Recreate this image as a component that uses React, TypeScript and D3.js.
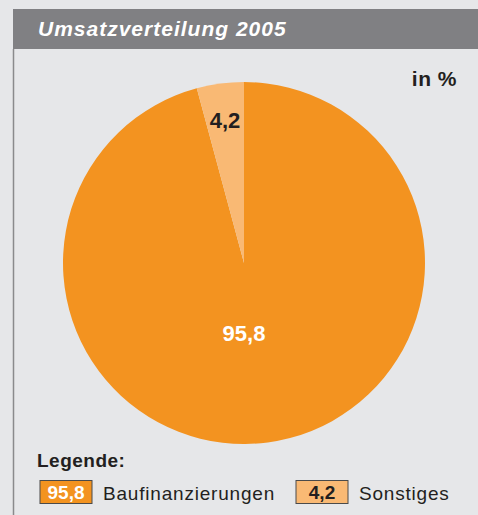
import React from 'react';
import * as d3 from 'd3';

const categories = ['Baufinanzierungen', 'Sonstiges'];
const values = [95.8, 4.2];
const labels = ['95,8', '4,2'];
const colors = ['#f39320', '#f9b974'];
const labelColors = ['#ffffff', '#231f20'];

const W = 478;
const H = 515;
const cx = 244;
const cy = 263;
const R = 181;
const font = '"Liberation Sans Narrow", "Liberation Sans", Arial, sans-serif';

const App = () => {
  // big slice runs clockwise from 12 o'clock, the small one closes back at the top
  const pie = d3.pie<number>().sort(null).value(d => d);
  const arcs = pie(values);
  const arc = d3.arc<d3.PieArcDatum<number>>().innerRadius(0).outerRadius(R);

  const labelPos = (i: number) => {
    if (i === 0) return [cx, cy + 78];
    const a = arcs[i];
    const mid = (a.startAngle + a.endAngle) / 2;
    const r = R * 0.8;
    return [cx + Math.sin(mid) * r, cy - Math.cos(mid) * r + 9];
  };

  return (
    <svg width={W} height={H} style={{ position: 'absolute', left: 0, top: 0 }}>
      <rect x={0} y={0} width={W} height={H} fill="#e6e7e9" />
      <rect x={13} y={9} width={W - 13} height={40} fill="#808083" />
      <line x1={13.5} y1={49} x2={13.5} y2={H} stroke="#8a8a8c" strokeWidth={1.5} />
      <text x={38} y={36} fill="#ffffff" fontFamily={font} fontWeight="bold" fontStyle="italic"
        fontSize={21} letterSpacing={1}>Umsatzverteilung 2005</text>
      <text x={457} y={86} textAnchor="end" fill="#231f20" fontFamily={font} fontWeight="bold"
        fontSize={21} letterSpacing={0.5}>in %</text>

      <g transform={`translate(${cx},${cy})`}>
        {arcs.map((a, i) => (
          <path key={categories[i]} d={arc(a) || ''} fill={colors[i]} />
        ))}
      </g>
      {arcs.map((a, i) => {
        const [x, y] = labelPos(i);
        return (
          <text key={'l' + i} x={x} y={y} textAnchor="middle" fill={labelColors[i]}
            fontFamily={font} fontWeight="bold" fontSize={22}>{labels[i]}</text>
        );
      })}

      <text x={37} y={467} fill="#231f20" fontFamily={font} fontWeight="bold" fontSize={19}
        letterSpacing={0.5}>Legende:</text>
      {categories.map((c, i) => {
        const x0 = i === 0 ? 40 : 296;
        return (
          <g key={'lg' + c}>
            <rect x={x0} y={480.5} width={52} height={23} fill={colors[i]} stroke="#4a4a4a" strokeWidth={1} />
            <text x={x0 + 26} y={499} textAnchor="middle" fill={labelColors[i]} fontFamily={font}
              fontWeight="bold" fontSize={19}>{labels[i]}</text>
            <text x={x0 + 63} y={500} fill="#231f20" fontFamily={font} fontSize={19}
              letterSpacing={0.8}>{c}</text>
          </g>
        );
      })}
    </svg>
  );
};

export default App;
